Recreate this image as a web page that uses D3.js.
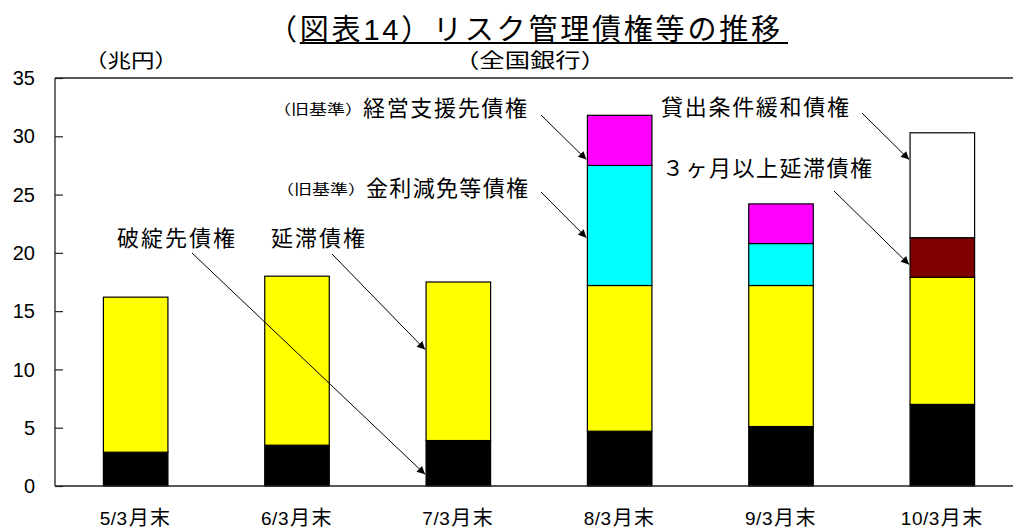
<!DOCTYPE html>
<html>
<head>
<meta charset="utf-8">
<script src="https://cdn.jsdelivr.net/npm/d3@7"></script>
<style>
  html, body { margin: 0; padding: 0; background: #fff; }
  svg { display: block; }
  text { font-family: "Liberation Sans", "Noto Sans CJK JP", sans-serif; fill: #000; }
</style>
</head>
<body>
<svg id="chart" width="1013" height="529"></svg>
<script>
// 年度末（各年3月末）
const categories = ["5/3月末", "6/3月末", "7/3月末", "8/3月末", "9/3月末", "10/3月末"];

// 兆円
const hatansaki   = [2.9, 3.5, 3.9, 4.7, 5.1, 7.0];     // 破綻先債権
const entai       = [13.3, 14.5, 13.6, 12.5, 12.1, 10.9]; // 延滞債権
const kinriGenmen = [0, 0, 0, 10.3, 3.6, 0];            // （旧基準）金利減免等債権
const keieiShien  = [0, 0, 0, 4.3, 3.4, 0];             // （旧基準）経営支援先債権
const sankagetsu  = [0, 0, 0, 0, 0, 3.4];               // ３ヶ月以上延滞債権
const kanwa       = [0, 0, 0, 0, 0, 9.0];               // 貸出条件緩和債権

const seriesKeys = ["hatansaki", "entai", "kinriGenmen", "keieiShien", "sankagetsu", "kanwa"];
const seriesColors = {
  hatansaki: "#000000",
  entai: "#ffff00",
  kinriGenmen: "#00ffff",
  keieiShien: "#ff00ff",
  sankagetsu: "#800000",
  kanwa: "#ffffff"
};

const yTicks = [0, 5, 10, 15, 20, 25, 30, 35];

const rows = categories.map((c, i) => ({
  cat: c,
  hatansaki: hatansaki[i],
  entai: entai[i],
  kinriGenmen: kinriGenmen[i],
  keieiShien: keieiShien[i],
  sankagetsu: sankagetsu[i],
  kanwa: kanwa[i]
}));

// 注記：ラベル位置と矢印の向き先（系列のカテゴリ・値）
const notes = [
  { text: "破綻先債権", x: 117, y: 238, len: 118, from: [192, 253], cat: "7/3月末", val: 1.0 },
  { text: "延滞債権", x: 271, y: 238, len: 94, from: [332, 254], cat: "7/3月末", val: 11.7 },
  { pre: "（旧基準）", text: "経営支援先債権", x: 273, y: 108, preLen: 90, len: 164, from: [541, 115], cat: "8/3月末", val: 28.0 },
  { pre: "（旧基準）", text: "金利減免等債権", x: 276, y: 188, preLen: 90, len: 162, from: [541, 192], cat: "8/3月末", val: 21.3 },
  { text: "貸出条件緩和債権", x: 661, y: 107, len: 188, from: [862, 113], cat: "10/3月末", val: 28.0 },
  { text: "３ヶ月以上延滞債権", x: 662, y: 168, len: 210, from: [834, 191], cat: "10/3月末", val: 19.0 }
];

const svg = d3.select("#chart");
const margin = { left: 55, top: 78, bottom: 486, right: 1023 };

const x = d3.scaleBand()
  .domain(categories)
  .range([margin.left, margin.right])
  .paddingInner(0.6)
  .paddingOuter(0.3);

const y = d3.scaleLinear().domain([0, 35]).range([margin.bottom, margin.top]);

// 積み上げ棒
const stacked = d3.stack().keys(seriesKeys)(rows);

svg.append("g").selectAll("g")
  .data(stacked)
  .join("g")
  .attr("fill", d => seriesColors[d.key])
  .selectAll("rect")
  .data(d => d.filter(s => s[1] - s[0] > 0))
  .join("rect")
  .attr("x", d => x(d.data.cat))
  .attr("width", x.bandwidth())
  .attr("y", d => y(d[1]))
  .attr("height", d => y(d[0]) - y(d[1]))
  .attr("stroke", "#000")
  .attr("stroke-width", 1.2);

// 枠線（上辺・左軸・下軸）
const frame = svg.append("g").attr("stroke", "#222").attr("stroke-width", 1.3).attr("fill", "none");
frame.append("line").attr("x1", margin.left).attr("x2", 1013).attr("y1", y(35)).attr("y2", y(35));
frame.append("line").attr("x1", margin.left).attr("x2", 1013).attr("y1", y(0)).attr("y2", y(0));
frame.append("line").attr("x1", margin.left).attr("x2", margin.left).attr("y1", y(0)).attr("y2", y(35));

// 縦軸（内向き目盛）
const yAxis = svg.append("g")
  .attr("transform", `translate(${margin.left},0)`)
  .call(d3.axisRight(y).tickValues(yTicks).tickSize(8).tickFormat(""));
yAxis.select(".domain").remove();
yAxis.selectAll("line").attr("stroke", "#222").attr("stroke-width", 1.2);

svg.append("g").selectAll("text")
  .data(yTicks)
  .join("text")
  .attr("x", 35)
  .attr("y", d => y(d))
  .attr("dy", "0.36em")
  .attr("text-anchor", "end")
  .attr("font-size", 20)
  .text(d => d);

// 横軸ラベル（数字部分と「月末」を分けて組む）
const xl = svg.append("g").selectAll("text")
  .data(categories)
  .join("text")
  .attr("x", d => x(d) + x.bandwidth() / 2)
  .attr("y", 525)
  .attr("text-anchor", "middle")
  .attr("font-size", 19);
xl.append("tspan")
  .attr("letter-spacing", 0.5)
  .text(d => d.replace("月末", ""));
xl.append("tspan")
  .attr("font-size", 20)
  .attr("letter-spacing", 1.5)
  .attr("dx", 1)
  .text("月末");

// 表題
const title = svg.append("text")
  .attr("x", 268)
  .attr("y", 40)
  .attr("font-size", 29)
  .attr("textLength", 512)
  .attr("lengthAdjust", "spacing")
  .text("（図表14）リスク管理債権等の推移");
const tNode = title.node();
const nChars = tNode.getNumberOfChars();
const ulStart = tNode.getStartPositionOfChar(1).x;
const ulEnd = tNode.getEndPositionOfChar(nChars - 1).x;
svg.append("line")
  .attr("x1", ulStart).attr("x2", ulEnd + 8)
  .attr("y1", 43).attr("y2", 43)
  .attr("stroke", "#000").attr("stroke-width", 2);

svg.append("text")
  .attr("x", 530).attr("y", 61)
  .attr("dominant-baseline", "central")
  .attr("text-anchor", "middle")
  .attr("font-size", 20)
  .attr("textLength", 152)
  .attr("lengthAdjust", "spacingAndGlyphs")
  .text("（全国銀行）");

svg.append("text")
  .attr("x", 131).attr("y", 61)
  .attr("dominant-baseline", "central")
  .attr("text-anchor", "middle")
  .attr("font-size", 19)
  .attr("textLength", 94)
  .attr("lengthAdjust", "spacingAndGlyphs")
  .text("（兆円）");

// 矢印
svg.append("defs").append("marker")
  .attr("id", "head")
  .attr("viewBox", "0 0 10 10")
  .attr("refX", 10).attr("refY", 5)
  .attr("markerWidth", 11).attr("markerHeight", 8)
  .attr("markerUnits", "userSpaceOnUse")
  .attr("orient", "auto")
  .append("path")
  .attr("d", "M0,0 L10,5 L0,10 Z")
  .attr("fill", "#000");

svg.append("g").selectAll("line")
  .data(notes)
  .join("line")
  .attr("x1", d => d.from[0])
  .attr("y1", d => d.from[1])
  .attr("x2", d => x(d.cat) - 1)
  .attr("y2", d => y(d.val))
  .attr("stroke", "#000")
  .attr("stroke-width", 1)
  .attr("marker-end", "url(#head)");

// 注記ラベル
const noteG = svg.append("g");
notes.forEach(n => {
  let sx = n.x;
  if (n.pre) {
    noteG.append("text")
      .attr("x", sx).attr("y", n.y + 1)
      .attr("dominant-baseline", "central")
      .attr("font-size", 14)
      .attr("textLength", n.preLen)
      .attr("lengthAdjust", "spacingAndGlyphs")
      .text(n.pre);
    sx += n.preLen;
  }
  noteG.append("text")
    .attr("x", sx).attr("y", n.y)
    .attr("dominant-baseline", "central")
    .attr("font-size", 22)
    .attr("textLength", n.len)
    .attr("lengthAdjust", "spacing")
    .text(n.text);
});
</script>
</body>
</html>
